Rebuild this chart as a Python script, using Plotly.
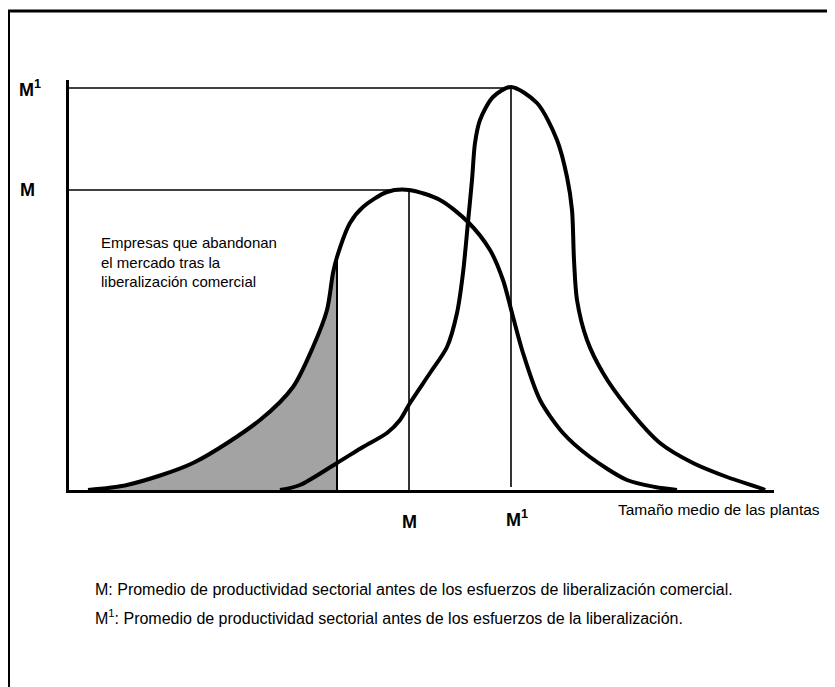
import plotly.graph_objects as go

# Curve before liberalization (mean M)
before_x = [19, 58, 124, 191, 224, 244, 258, 264, 268, 281, 294, 318, 340, 371, 399, 421, 434, 443, 454, 471, 494, 521, 558, 586, 608]
before_y = [0, 5, 27, 70, 103, 143, 180, 217, 233, 267, 283, 298, 300, 290, 268, 240, 210, 177, 137, 90, 57, 33, 10, 3, 0]

# Curve after liberalization (mean M1)
after_x = [211, 231, 268, 294, 318, 331, 341, 361, 378, 388, 394, 399, 403, 406, 411, 424, 442, 468, 488, 498, 503, 505, 508, 518, 534, 558, 591, 624, 658, 694, 696]
after_y = [0, 5, 27, 43, 57, 70, 87, 117, 143, 177, 217, 268, 310, 347, 370, 393, 403, 387, 350, 313, 280, 230, 190, 150, 117, 83, 47, 27, 13, 1, 0]

# Exit threshold (firms leaving the market)
exit_x = 268
M_x, M_y = 340, 300
M1_x, M1_y = 442, 402

shade_x = [x for x in before_x if x <= exit_x]
shade_y = [y for x, y in zip(before_x, before_y) if x <= exit_x]

XR = [0, 705]
YR = [0, 410]

# page body adds an 8px offset; the figure is sized to fit the window
W, H = 827, 679
L, T = 61, 72
PW, PH = 705, 410

fig = go.Figure()
fig.add_trace(go.Scatter(x=shade_x, y=shade_y, mode="lines", fill="tozeroy",
                         fillcolor="#a3a3a3", line=dict(width=0, shape="spline", smoothing=0.8),
                         hoverinfo="skip", showlegend=False))
fig.add_trace(go.Scatter(x=before_x, y=before_y, mode="lines",
                         line=dict(color="black", width=4, shape="spline", smoothing=0.8),
                         showlegend=False))
fig.add_trace(go.Scatter(x=after_x, y=after_y, mode="lines",
                         line=dict(color="black", width=4, shape="spline", smoothing=0.8),
                         showlegend=False))

top_frame = 1 + (T - 3) / PH
left_frame = (1 - L) / PW
shapes = [
    dict(type="line", xref="x", yref="y", x0=exit_x, x1=exit_x, y0=0, y1=shade_y[-1],
         line=dict(color="black", width=2)),
    dict(type="line", xref="x", yref="y", x0=M_x, x1=M_x, y0=0, y1=M_y, line=dict(color="black", width=1.6)),
    dict(type="line", xref="x", yref="y", x0=0, x1=M_x, y0=M_y, y1=M_y, line=dict(color="black", width=1.6)),
    dict(type="line", xref="x", yref="y", x0=M1_x, x1=M1_x, y0=3, y1=M1_y, line=dict(color="black", width=1.6)),
    dict(type="line", xref="x", yref="y", x0=-9, x1=M1_x, y0=M1_y, y1=M1_y, line=dict(color="black", width=1.6)),
    # outer frame (top and left)
    dict(type="line", xref="paper", yref="paper", x0=-L / PW, x1=(W - L) / PW, y0=top_frame, y1=top_frame,
         line=dict(color="black", width=3)),
    dict(type="line", xref="paper", yref="paper", x0=left_frame, x1=left_frame, y0=top_frame,
         y1=-(H - T - PH) / PH, line=dict(color="black", width=2)),
]

F = "Liberation Sans, Arial, Helvetica, sans-serif"
ann = []
ann.append(dict(xref="paper", yref="y", x=-39 / PW, y=M1_y, text="<b>M<sup>1</sup></b>",
                showarrow=False, font=dict(size=18, color="black", family=F), xanchor="center", yanchor="middle"))
ann.append(dict(xref="paper", yref="y", x=-42 / PW, y=M_y, text="<b>M</b>",
                showarrow=False, font=dict(size=18, color="black", family=F), xanchor="center", yanchor="middle"))
ann.append(dict(xref="x", yref="paper", x=M_x, y=-32 / PH, text="<b>M</b>",
                showarrow=False, font=dict(size=18, color="black", family=F), xanchor="center", yanchor="middle"))
ann.append(dict(xref="x", yref="paper", x=M1_x, xshift=6, y=-28 / PH, text="<b>M<sup>1</sup></b>",
                showarrow=False, font=dict(size=18, color="black", family=F), xanchor="center", yanchor="middle"))
ann.append(dict(xref="x", yref="paper", x=547, y=-19 / PH, text="Tamaño medio de las plantas",
                showarrow=False, font=dict(size=15.5, color="black", family=F), xanchor="left", yanchor="middle"))
ann.append(dict(xref="paper", yref="paper", x=30 / PW, y=(490 - 262) / PH,
                text="Empresas que abandonan<br>el mercado tras la<br>liberalización comercial",
                align="left", showarrow=False, font=dict(size=15, color="black", family=F),
                xanchor="left", yanchor="middle"))
ann.append(dict(xref="paper", yref="paper", x=24 / PW, y=(490 - 589) / PH,
                text="M: Promedio de productividad sectorial antes de los esfuerzos de liberalización comercial.",
                showarrow=False, font=dict(size=16, color="black", family=F), xanchor="left", yanchor="middle"))
ann.append(dict(xref="paper", yref="paper", x=24 / PW, y=(490 - 617) / PH,
                text="M<sup>1</sup>: Promedio de productividad sectorial antes de los esfuerzos de la liberalización.",
                showarrow=False, font=dict(size=16, color="black", family=F), xanchor="left", yanchor="middle"))

fig.update_layout(
    width=W, height=H,
    margin=dict(l=L, r=W - L - PW, t=T, b=H - T - PH),
    paper_bgcolor="white", plot_bgcolor="white",
    shapes=shapes, annotations=ann,
    xaxis=dict(range=XR, showgrid=False, zeroline=False, showticklabels=False, ticks="",
               showline=True, linecolor="black", linewidth=3),
    yaxis=dict(range=YR, showgrid=False, zeroline=False, showticklabels=False, ticks="",
               showline=True, linecolor="black", linewidth=2.5),
    showlegend=False,
)
fig.write_html("out.html")
